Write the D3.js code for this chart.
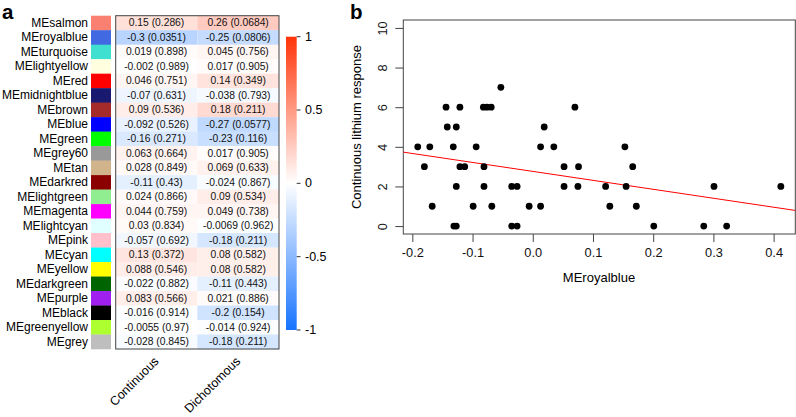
<!DOCTYPE html>
<html><head><meta charset="utf-8">
<script src="https://cdn.jsdelivr.net/npm/d3@7/dist/d3.min.js"></script>
<style>body{margin:0;background:#fff}svg{display:block;font-family:"Liberation Sans",Arial,sans-serif}</style>
</head><body><svg id="c" width="796" height="417"></svg>
<script>
const modules = ["MEsalmon","MEroyalblue","MEturquoise","MElightyellow","MEred","MEmidnightblue","MEbrown","MEblue","MEgreen","MEgrey60","MEtan","MEdarkred","MElightgreen","MEmagenta","MElightcyan","MEpink","MEcyan","MEyellow","MEdarkgreen","MEpurple","MEblack","MEgreenyellow","MEgrey"];
const moduleColors = ["#FA8072","#4169E1","#40E0D0","#FFFFE0","#FF0000","#191970","#A52A2A","#0000FF","#00FF00","#999999","#D2B48C","#8B0000","#90EE90","#FF00FF","#E0FFFF","#FFC0CB","#00FFFF","#FFFF00","#006400","#A020F0","#000000","#ADFF2F","#BEBEBE"];
const traits = ["Continuous","Dichotomous"];
const contR = [0.15,-0.3,0.019,-0.002,0.046,-0.07,0.09,-0.092,-0.16,0.063,0.028,-0.11,0.024,0.044,0.03,-0.057,0.13,0.088,-0.022,0.083,-0.016,-0.0055,-0.028];
const contP = ["0.286","0.0351","0.898","0.989","0.751","0.631","0.536","0.526","0.271","0.664","0.849","0.43","0.866","0.759","0.834","0.692","0.372","0.546","0.882","0.566","0.914","0.97","0.845"];
const dichR = [0.26,-0.25,0.045,0.017,0.14,-0.038,0.18,-0.27,-0.23,0.017,0.069,-0.024,0.09,0.049,-0.0069,-0.18,0.08,0.08,-0.11,0.021,-0.2,-0.014,-0.18];
const dichP = ["0.0684","0.0806","0.756","0.905","0.349","0.793","0.211","0.0577","0.116","0.905","0.633","0.867","0.534","0.738","0.962","0.211","0.582","0.582","0.443","0.886","0.154","0.924","0.211"];
const colorbarTicks = [1,0.5,0,-0.5,-1];

const scatterX = [-0.053,
 -0.144,-0.121,-0.082,-0.076,-0.069,0.070,
 -0.142,-0.127,0.019,
 -0.191,-0.171,-0.132,-0.094,0.013,0.035,0.153,
 -0.180,-0.121,-0.113,-0.081,0.052,0.076,0.166,
 -0.127,-0.081,-0.035,-0.026,0.052,0.075,0.121,0.155,0.301,0.412,
 -0.167,-0.099,-0.068,-0.006,0.013,0.128,0.172,
 -0.131,-0.127,-0.035,-0.026,0.201,0.284,0.322];
const scatterY = [7,
 6,6,6,6,6,6,
 5,5,5,
 4,4,4,4,4,4,4,
 3,3,3,3,3,3,3,
 2,2,2,2,2,2,2,2,2,2,
 1,1,1,1,1,1,1,
 0,0,0,0,0,0,0];
const fitIntercept = 2.76, fitSlope = -4.52;
const xTicks = [-0.2,-0.1,0.0,0.1,0.2,0.3,0.4];
const yTicks = [0,2,4,6,8,10];

const svg = d3.select("#c");
const blueEnd = "rgb(22,115,255)", redEnd = "rgb(255,52,8)";
const col = d3.scaleLinear().domain([-1,0,1]).range([blueEnd,"#ffffff",redEnd]).interpolate(d3.interpolateRgb);

// ---------- panel a ----------
const yb = d3.scaleBand().domain(modules).range([15.7,349]);
const xb = d3.scaleBand().domain(traits).range([115.7,279]);
const cells = [];
modules.forEach((m,i)=>{
  cells.push({m, t:traits[0], r:contR[i], p:contP[i]});
  cells.push({m, t:traits[1], r:dichR[i], p:dichP[i]});
});
svg.append("g").selectAll("rect").data(cells).join("rect")
  .attr("x",d=>xb(d.t)).attr("y",d=>yb(d.m))
  .attr("width",xb.bandwidth()).attr("height",yb.bandwidth()+0.3)
  .attr("fill",d=>col(d.r));
svg.append("g").selectAll("text").data(cells).join("text")
  .attr("x",d=>xb(d.t)+xb.bandwidth()/2).attr("y",d=>yb(d.m)+yb.bandwidth()/2)
  .attr("text-anchor","middle").attr("dominant-baseline","central")
  .attr("font-size",10.3).attr("fill","#111")
  .text(d=>`${d.r} (${d.p})`);
svg.append("rect").attr("x",115.7).attr("y",15.7).attr("width",279-115.7).attr("height",349-15.7)
  .attr("fill","none").attr("stroke","#444").attr("stroke-width",1);
svg.append("g").selectAll("rect").data(modules).join("rect")
  .attr("x",91).attr("y",d=>yb(d)).attr("width",20).attr("height",yb.bandwidth()+0.3)
  .attr("fill",(d,i)=>moduleColors[i]);
svg.append("g").selectAll("text").data(modules).join("text")
  .attr("x",88).attr("y",d=>yb(d)+yb.bandwidth()/2)
  .attr("text-anchor","end").attr("dominant-baseline","central")
  .attr("font-size",12).attr("fill","#000").text(d=>d);
svg.append("g").selectAll("text").data(traits).join("text")
  .attr("transform",d=>`translate(${xb(d)+xb.bandwidth()/2+3},${362}) rotate(-45)`)
  .attr("text-anchor","end").attr("font-size",12.5).text(d=>d);
svg.append("text").attr("x",2).attr("y",18.8).attr("font-size",20.5).attr("font-weight","bold").text("a");

// colorbar
const cbY = d3.scaleLinear().domain([-1,1]).range([330,36.7]);
const grad = svg.append("defs").append("linearGradient").attr("id","cbg")
  .attr("x1",0).attr("y1",1).attr("x2",0).attr("y2",0);
d3.range(0,1.0001,0.05).forEach(t=>{
  grad.append("stop").attr("offset",t).attr("stop-color",col(-1+2*t));
});
svg.append("rect").attr("x",286).attr("y",36.7).attr("width",10.7).attr("height",330-36.7).attr("fill","url(#cbg)");
const cbg = svg.append("g");
cbg.selectAll("line").data(colorbarTicks).join("line")
  .attr("x1",296.7).attr("x2",300.5).attr("y1",d=>cbY(d)).attr("y2",d=>cbY(d))
  .attr("stroke","#333").attr("stroke-width",1);
cbg.selectAll("text").data(colorbarTicks).join("text")
  .attr("x",305).attr("y",d=>cbY(d)).attr("dominant-baseline","central")
  .attr("font-size",12.5).text(d=>d);

// ---------- panel b ----------
const x = d3.scaleLinear().domain([-0.215,0.436]).range([403.3,795.3]);
const y = d3.scaleLinear().domain([-0.4,10.4]).range([234,20]);
svg.append("rect").attr("x",403.3).attr("y",20).attr("width",795.3-403.3).attr("height",214)
  .attr("fill","none").attr("stroke","#444").attr("stroke-width",1);
const xa = svg.append("g").attr("transform","translate(0,234)")
  .call(d3.axisBottom(x).tickValues(xTicks).tickSize(8).tickPadding(6).tickFormat(d3.format(".1f")));
const ya = svg.append("g").attr("transform","translate(403.3,0)")
  .call(d3.axisLeft(y).tickValues(yTicks).tickSize(8).tickPadding(6).tickFormat(d3.format("d")));
[xa,ya].forEach(a=>{
  a.select(".domain").remove();
  a.selectAll("line").attr("stroke","#444");
  a.selectAll("text").attr("font-size",12.8).attr("fill","#111").attr("font-family","'Liberation Sans',Arial,sans-serif");
});
xa.selectAll(".tick text").text(d=>d3.format(".1f")(d).replace("−","-"));
ya.selectAll(".tick text").each(function(d){
  d3.select(this).attr("x",null).attr("dy",null).attr("text-anchor","middle")
   .attr("transform","translate(-20.6,0) rotate(-90)").attr("dominant-baseline","central");
});
svg.append("line")
  .attr("x1",x(-0.215)).attr("y1",y(fitIntercept+fitSlope*-0.215))
  .attr("x2",x(0.436)).attr("y2",y(fitIntercept+fitSlope*0.436))
  .attr("stroke","#FF0000").attr("stroke-width",1);
svg.append("g").selectAll("circle").data(scatterX).join("circle")
  .attr("cx",d=>x(d)).attr("cy",(d,i)=>y(scatterY[i])).attr("r",3.4).attr("fill","#000");
svg.append("text").attr("x",599).attr("y",281.5).attr("text-anchor","middle").attr("font-size",13).text("MEroyalblue");
svg.append("text").attr("transform","translate(361,127) rotate(-90)").attr("text-anchor","middle").attr("font-size",13).text("Continuous lithium response");
svg.append("text").attr("x",350).attr("y",18.8).attr("font-size",20.5).attr("font-weight","bold").text("b");
</script></body></html>
